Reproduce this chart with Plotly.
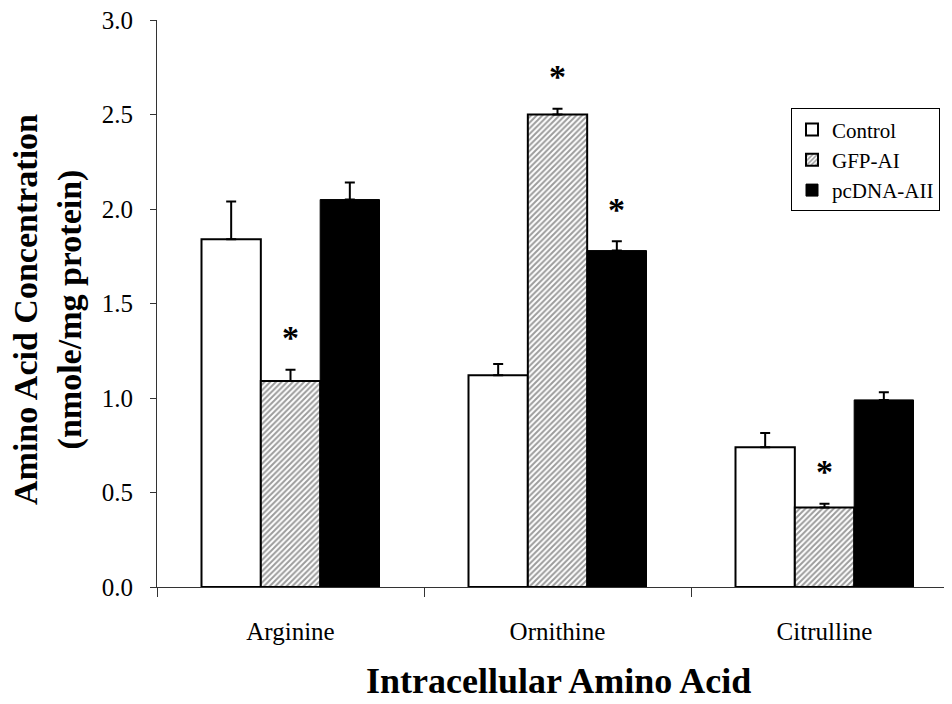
import plotly.graph_objects as go

categories = ["Arginine", "Ornithine", "Citrulline"]
series_names = ["Control", "GFP-AI", "pcDNA-AII"]
control = [1.84, 1.12, 0.74]
gfp_ai = [1.09, 2.50, 0.42]
pcdna_aii = [2.05, 1.78, 0.99]
control_err = [0.20, 0.06, 0.075]
gfp_ai_err = [0.06, 0.03, 0.02]
pcdna_aii_err = [0.09, 0.05, 0.04]
# significance stars: (category, series index, y position)
stars = [("Arginine", 1, 1.34), ("Ornithine", 1, 2.72), ("Ornithine", 2, 2.02), ("Citrulline", 1, 0.63)]
y_ticks = [0.0, 0.5, 1.0, 1.5, 2.0, 2.5, 3.0]
x_title = "Intracellular Amino Acid"
y_title = "Amino Acid Concentration<br>(nmole/mg protein)"

FONT = "Liberation Serif, Times New Roman, serif"
# page has an 8px body margin; figure fills the rest of the 952x704 window
W, H = 944, 696
ML, MR, MT, MB = 149, 0, 11.5, 116.5
CAT_PX = 267.0
BARGAP = 1/3
bar_px = CAT_PX * (1 - BARGAP) / 3

fig = go.Figure()
styles = [
    dict(color="white", line=dict(color="black", width=2)),
    dict(color="white", line=dict(color="black", width=2),
         pattern=dict(shape="/", fgcolor="#3a3a3a", bgcolor="white", size=4, solidity=0.5)),
    dict(color="black", line=dict(color="black", width=1)),
]
vals = [control, gfp_ai, pcdna_aii]
errs = [control_err, gfp_ai_err, pcdna_aii_err]
for name, v, e, st in zip(series_names, vals, errs, styles):
    fig.add_trace(go.Bar(
        x=categories, y=v, name=name, marker=st,
        error_y=dict(type="data", symmetric=False, array=e, arrayminus=[0]*len(e),
                     color="black", thickness=2, width=5),
    ))

for cat, idx, yv in stars:
    fig.add_annotation(x=cat, y=yv, text="<b>*</b>", showarrow=False,
                       xshift=(idx - 1) * bar_px, yshift=-4,
                       font=dict(family=FONT, size=34, color="black"))

plot_w = W - ML - MR
plot_h = H - MT - MB
xmax = -0.5 + plot_w / CAT_PX

def px_to_paper_x(px):
    return (px - ML) / plot_w

def px_to_paper_y(py):
    return (MT + plot_h - py) / plot_h

# axis titles as annotations (positions in figure pixels)
fig.add_annotation(text="<b>" + y_title + "</b>", textangle=-90, showarrow=False,
                   xref="paper", yref="paper", x=px_to_paper_x(40), y=px_to_paper_y(302),
                   xanchor="center", yanchor="middle",
                   font=dict(family=FONT, size=34, color="black"))
fig.add_annotation(text="<b>" + x_title + "</b>", showarrow=False,
                   xref="paper", yref="paper", x=px_to_paper_x(550), y=px_to_paper_y(674),
                   xanchor="center", yanchor="middle",
                   font=dict(family=FONT, size=36, color="black"))

fig.update_layout(
    width=W, height=H,
    margin=dict(l=ML, r=MR, t=MT, b=MB),
    paper_bgcolor="white", plot_bgcolor="white",
    barmode="group", bargap=BARGAP, bargroupgap=0,
    font=dict(family=FONT, color="black", size=18),
    showlegend=True,
    legend=dict(x=px_to_paper_x(783), y=px_to_paper_y(100), xanchor="left", yanchor="top",
                bordercolor="black", borderwidth=1, bgcolor="white",
                font=dict(family=FONT, size=21), traceorder="normal",
                itemwidth=30, tracegroupgap=2),
)
fig.update_xaxes(
    range=[-0.5, xmax], showline=True, linecolor="#333333", linewidth=1,
    ticks="outside", tickson="boundaries", ticklen=9, tickcolor="#333333",
    tickfont=dict(family=FONT, size=25), ticklabelstandoff=22, automargin=False,
    showgrid=False, zeroline=False,
)
fig.update_yaxes(
    range=[0, 3], showline=True, linecolor="#333333", linewidth=1,
    ticks="outside", ticklen=6, tickcolor="#333333",
    tickvals=y_ticks, ticktext=[f"{t:.1f}" for t in y_ticks],
    tickfont=dict(family=FONT, size=25), ticklabelstandoff=12, automargin=False,
    ticklabeloverflow="allow",
    showgrid=False, zeroline=False,
)

fig.write_html("out.html")
